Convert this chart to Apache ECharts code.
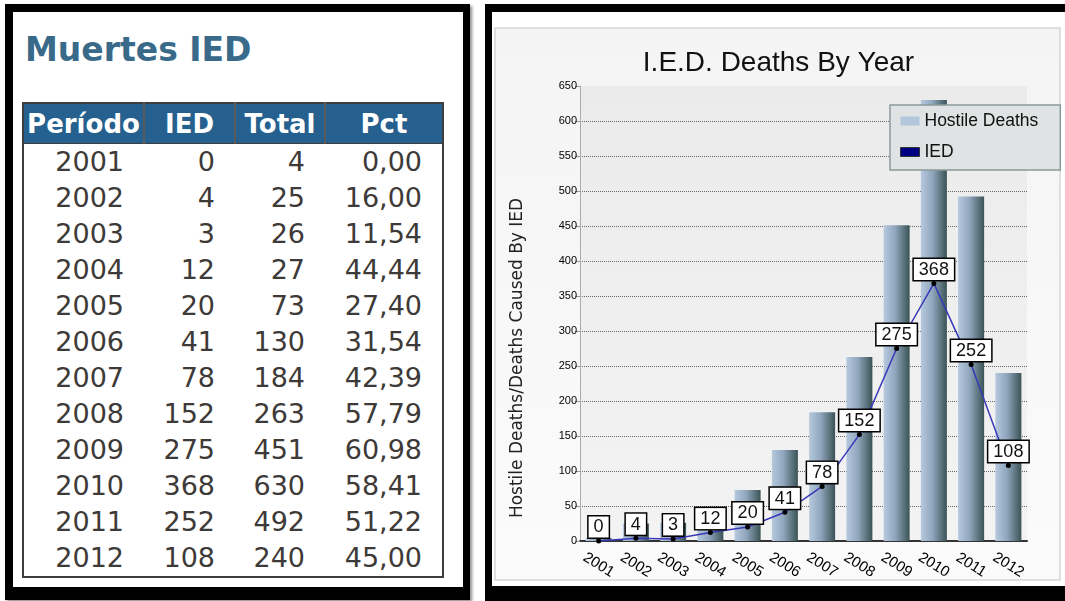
<!DOCTYPE html>
<html>
<head>
<meta charset="utf-8">
<script src="https://cdn.jsdelivr.net/npm/echarts@6/dist/echarts.min.js"></script>
<style>
  html, body { margin:0; padding:0; background:#fff; width:1065px; height:601px; overflow:hidden; position:relative; }
  #leftFrame { position:absolute; left:5px; top:4px; width:450px; height:575px; border-style:solid; border-color:#000; border-width:8px 7px 13px 8px; background:#fff; box-shadow:2px 2px 3px rgba(0,0,0,0.45); }
  #rightFrame { position:absolute; left:485px; top:4px; width:600px; height:574px; border-style:solid; border-color:#000; border-width:8px 0 15px 7px; background:#fff; }
  #ttl { position:absolute; left:25px; top:33px; font-family:"DejaVu Sans", Verdana, sans-serif; font-weight:bold; font-size:33px; line-height:33px; color:#3a6a8a; white-space:nowrap; }
  #tbl { position:absolute; left:22px; top:102px; border-collapse:collapse; table-layout:fixed; border:2px solid #3e3e3e; font-family:"DejaVu Sans", Verdana, sans-serif; }
  #tbl th { background:#25608e; color:#fff; font-weight:bold; font-size:26px; height:39px; padding:0; text-align:center; border-left:2px solid #5a5a5a; border-bottom:1px solid #3e3e3e; }
  #tbl th:first-child { border-left:none; }
  #tbl td { font-size:27px; height:36px; padding:0 20px 0 0; text-align:right; color:#3d3a38; background:#fff; line-height:36px; }
  #chart { position:absolute; left:492px; top:12px; width:573px; height:574px; }
</style>
</head>
<body>
<div id="leftFrame"></div>
<div id="rightFrame"></div>
<div id="ttl">Muertes IED</div>
<table id="tbl">
  <colgroup><col style="width:121px"><col style="width:91px"><col style="width:90px"><col style="width:118px"></colgroup>
  <thead><tr id="hdr"></tr></thead>
  <tbody id="tb"></tbody>
</table>
<div id="chart"></div>
<script>
// ---- data ----
var tableHeaders = ['Período', 'IED', 'Total', 'Pct'];
var years = ['2001','2002','2003','2004','2005','2006','2007','2008','2009','2010','2011','2012'];
var iedDeaths = [0, 4, 3, 12, 20, 41, 78, 152, 275, 368, 252, 108];
var hostileDeaths = [4, 25, 26, 27, 73, 130, 184, 263, 451, 630, 492, 240];
var pctLabels = ['0,00','16,00','11,54','44,44','27,40','31,54','42,39','57,79','60,98','58,41','51,22','45,00'];
var chartTitle = 'I.E.D. Deaths By Year';
var yAxisTitle = 'Hostile Deaths/Deaths Caused By IED';
var seriesNames = ['Hostile Deaths', 'IED'];

// ---- table ----
var hdr = document.getElementById('hdr');
tableHeaders.forEach(function(h){ var th=document.createElement('th'); th.textContent=h; hdr.appendChild(th); });
var tb = document.getElementById('tb');
years.forEach(function(y,i){
  var tr=document.createElement('tr');
  [y, String(iedDeaths[i]), String(hostileDeaths[i]), pctLabels[i]].forEach(function(v){
    var td=document.createElement('td'); td.textContent=v; tr.appendChild(td);
  });
  tb.appendChild(tr);
});

// ---- chart ----
var chart = echarts.init(document.getElementById('chart'), null, {renderer:'canvas'});
var FF = '"Liberation Sans", Arial, sans-serif';
chart.setOption({
  animation:false,
  textStyle:{ fontFamily:FF },
  title:{ text:chartTitle, left:'center', top:32, textStyle:{ fontSize:28, fontWeight:'normal', color:'#111', fontFamily:FF } },
  graphic:[
    { type:'rect', z:-10, shape:{ x:3, y:16, width:565, height:552 },
      style:{ fill:{ type:'linear', x:0, y:0, x2:0, y2:1, colorStops:[{offset:0,color:'#f4f4f4'},{offset:1,color:'#fbfbfb'}] }, stroke:'#d6d6d6', lineWidth:1.5 } },
    { type:'text', x:26, y:346, rotation:Math.PI/2, z:10,
      style:{ text:yAxisTitle, align:'center', verticalAlign:'middle', fontSize:17, fontFamily:'"DejaVu Sans", sans-serif', fill:'#222' } }
  ],
  grid:{ left:88, right:38, top:74, bottom:45, show:true, borderWidth:0,
    backgroundColor:{ type:'linear', x:0, y:0, x2:0, y2:1, colorStops:[{offset:0,color:'#ebebeb'},{offset:1,color:'#f3f3f3'}] } },
  legend:{
    orient:'vertical', left:398, top:93,
    backgroundColor:'#dfe3e3', borderColor:'#8a9a9a', borderWidth:1.5, borderRadius:0,
    padding:[7,22,9,10], itemGap:13, itemWidth:19, itemHeight:9,
    textStyle:{ fontSize:17.5, color:'#111', fontFamily:FF },
    data:[
      { name:seriesNames[0], icon:'rect', itemStyle:{ color:'#b2c6dc' } },
      { name:seriesNames[1], icon:'rect', itemStyle:{ color:'#000080', borderColor:'#333', borderWidth:1 } }
    ]
  },
  xAxis:{ type:'category', data:years, boundaryGap:true,
    axisLine:{ lineStyle:{ color:'#333', width:2 } }, axisTick:{ show:false },
    axisLabel:{ rotate:-32, fontSize:15, color:'#000', align:'center', verticalAlign:'middle', margin:24, interval:0 } },
  yAxis:{ type:'value', min:0, max:650, interval:50,
    axisLine:{ show:true, lineStyle:{ color:'#aaa', width:1 } },
    axisTick:{ show:true, length:5, lineStyle:{ color:'#999' } },
    axisLabel:{ fontSize:11, color:'#000', margin:3 },
    splitLine:{ show:true, showMaxLine:false, lineStyle:{ type:'dotted', color:'#666', width:1 } } },
  series:[
    { name:seriesNames[0], type:'bar', data:hostileDeaths, barWidth:26,
      itemStyle:{ color:{ type:'linear', x:0, y:0, x2:1, y2:0, colorStops:[
        {offset:0,color:'#b6c9de'},{offset:0.45,color:'#8fa5bc'},{offset:1,color:'#3a5355'}] } } },
    { name:seriesNames[1], type:'line', data:iedDeaths, symbol:'circle', symbolSize:5,
      lineStyle:{ color:'#3838b8', width:1.5 }, itemStyle:{ color:'#000' },
      label:{ show:true, position:'top', distance:1, fontSize:18, lineHeight:18, color:'#111',
        backgroundColor:'#fff', borderColor:'#000', borderWidth:1.5, padding:[2,5,1,5] } }
  ]
});
</script>
</body>
</html>
